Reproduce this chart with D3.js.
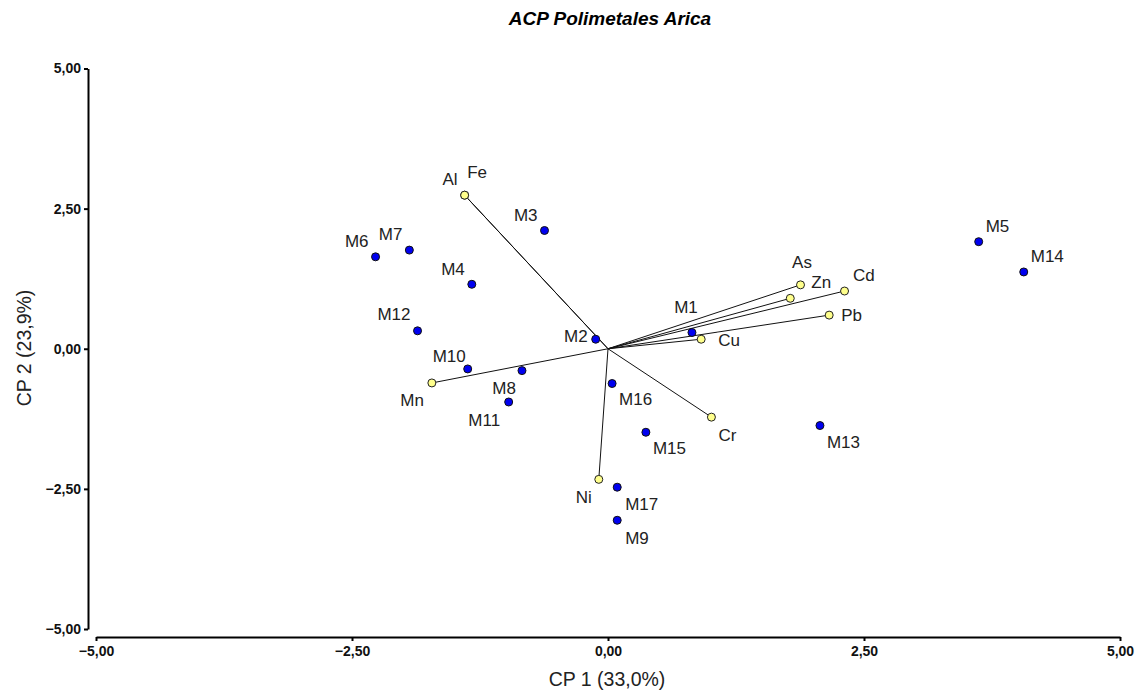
<!DOCTYPE html>
<html>
<head>
<meta charset="utf-8">
<script src="https://cdn.jsdelivr.net/npm/d3@7"></script>
<style>
  body { margin: 0; background: #fff; }
  text { font-family: Arial, "Liberation Sans", sans-serif; }
</style>
</head>
<body>
<div id="chart"></div>
<script>
// Scores of the samples (CP1, CP2)
const sampleNames = ['M1', 'M2', 'M3', 'M4', 'M5', 'M6', 'M7', 'M8', 'M9',
                     'M10', 'M11', 'M12', 'M13', 'M14', 'M15', 'M16', 'M17'];
const sampleCP1 = [0.82, -0.12, -0.62, -1.33, 3.62, -2.27, -1.94, -0.84, 0.09,
                   -1.37, -0.97, -1.86, 2.07, 4.06, 0.37, 0.04, 0.09];
const sampleCP2 = [0.29, 0.17, 2.11, 1.15, 1.91, 1.64, 1.76, -0.39, -3.06,
                   -0.36, -0.95, 0.32, -1.37, 1.37, -1.49, -0.62, -2.47];

// Loadings of the metals (CP1, CP2)
const varNames = ['Al', 'Fe', 'Mn', 'Cu', 'As', 'Zn', 'Cd', 'Pb', 'Cr', 'Ni'];
const varCP1 = [-1.40, -1.40, -1.72, 0.91, 1.88, 1.78, 2.31, 2.16, 1.01, -0.09];
const varCP2 = [2.74, 2.74, -0.61, 0.17, 1.14, 0.90, 1.03, 0.60, -1.22, -2.33];

const xTicks = [-5, -2.5, 0, 2.5, 5];
const yTicks = [-5, -2.5, 0, 2.5, 5];

const title = 'ACP Polimetales Arica';
const xTitle = 'CP 1 (33,0%)';
const yTitle = 'CP 2 (23,9%)';

// Label placement: [anchor, dx, dy] relative to the point
const labelPlace = {
    M1: ['middle', -6, -26], M2: ['end', -8, -3], M3: ['end', -7, -16],
    M4: ['end', -7, -15], M5: ['start', 7, -16], M6: ['end', -7, -16],
    M7: ['end', -7, -16], M8: ['end', -6, 17], M9: ['start', 8, 17.5],
    M10: ['end', -2, -13.5], M11: ['end', -8.5, 17.5], M12: ['end', -7, -16.5],
    M13: ['start', 7, 16.7], M14: ['start', 7, -16.4], M15: ['start', 7, 15.5],
    M16: ['start', 7, 15.4], M17: ['start', 8, 16.7],
    Al: ['end', -7, -16], Fe: ['start', 2.5, -23], Mn: ['end', -8, 16.5],
    Cu: ['start', 17, 0.5], As: ['middle', 1.5, -22.5], Zn: ['start', 21, -16],
    Cd: ['start', 8.5, -16], Pb: ['start', 12, 0], Cr: ['start', 7, 18],
    Ni: ['end', -7, 17.4]
};

const W = 1138, H = 691;
const svg = d3.select('#chart').append('svg')
    .attr('width', W)
    .attr('height', H);

const x = d3.scaleLinear().domain([-5, 5]).range([96, 1120]);
const y = d3.scaleLinear().domain([-5, 5]).range([629, 68.5]);
const fmt = d => d3.format('.2f')(d).replace('.', ',');

// Axes
const xAxisG = svg.append('g')
    .attr('transform', 'translate(0,637)')
    .call(d3.axisBottom(x).tickValues(xTicks).tickFormat(fmt)
        .tickSizeInner(4).tickSizeOuter(0).tickPadding(5));

const yAxisG = svg.append('g')
    .attr('transform', 'translate(88,0)')
    .call(d3.axisLeft(y).tickValues(yTicks).tickFormat(fmt)
        .tickSizeInner(4).tickSizeOuter(0).tickPadding(3));

[xAxisG, yAxisG].forEach(g => {
    g.select('.domain').attr('stroke', '#000').attr('stroke-width', 2);
    g.selectAll('.tick line').attr('stroke', '#000').attr('stroke-width', 2);
    g.selectAll('.tick text')
        .attr('fill', '#111')
        .style('font-size', '14px')
        .style('font-weight', 'bold');
});

// Titles
svg.append('text')
    .attr('x', 610)
    .attr('y', 25)
    .attr('text-anchor', 'middle')
    .style('font-size', '19px')
    .style('font-weight', 'bold')
    .style('font-style', 'italic')
    .attr('fill', '#000')
    .text(title);

svg.append('text')
    .attr('x', 607)
    .attr('y', 686)
    .attr('text-anchor', 'middle')
    .style('font-size', '19.5px')
    .attr('fill', '#222')
    .text(xTitle);

svg.append('text')
    .attr('transform', 'translate(31,348) rotate(-90)')
    .attr('text-anchor', 'middle')
    .style('font-size', '19.5px')
    .attr('fill', '#222')
    .text(yTitle);

const samples = sampleNames.map((n, i) => ({ name: n, cp1: sampleCP1[i], cp2: sampleCP2[i], kind: 's' }));
const vars = varNames.map((n, i) => ({ name: n, cp1: varCP1[i], cp2: varCP2[i], kind: 'v' }));

// Loading vectors
svg.append('g').selectAll('line')
    .data(vars)
    .enter()
    .append('line')
    .attr('x1', x(0))
    .attr('y1', y(0))
    .attr('x2', d => x(d.cp1))
    .attr('y2', d => y(d.cp2))
    .attr('stroke', '#111')
    .attr('stroke-width', 1);

// Labels with white background
const labels = svg.append('g').selectAll('g')
    .data(samples.concat(vars))
    .enter()
    .append('g');

labels.append('text')
    .attr('x', d => x(d.cp1) + labelPlace[d.name][1])
    .attr('y', d => y(d.cp2) + labelPlace[d.name][2])
    .attr('dy', '0.36em')
    .attr('text-anchor', d => labelPlace[d.name][0])
    .style('font-size', '17px')
    .attr('fill', '#222')
    .text(d => d.name);

labels.each(function() {
    const g = d3.select(this);
    const bb = g.select('text').node().getBBox();
    g.insert('rect', 'text')
        .attr('x', bb.x - 1)
        .attr('y', bb.y + 2)
        .attr('width', bb.width + 2)
        .attr('height', bb.height - 3)
        .attr('fill', '#fff');
});

// Points
svg.append('g').selectAll('circle')
    .data(vars)
    .enter()
    .append('circle')
    .attr('cx', d => x(d.cp1))
    .attr('cy', d => y(d.cp2))
    .attr('r', 4)
    .attr('fill', '#ffff8c')
    .attr('stroke', '#222')
    .attr('stroke-width', 1);

svg.append('g').selectAll('circle')
    .data(samples)
    .enter()
    .append('circle')
    .attr('cx', d => x(d.cp1))
    .attr('cy', d => y(d.cp2))
    .attr('r', 4)
    .attr('fill', '#0000f0')
    .attr('stroke', '#111')
    .attr('stroke-width', 1);
</script>
</body>
</html>
